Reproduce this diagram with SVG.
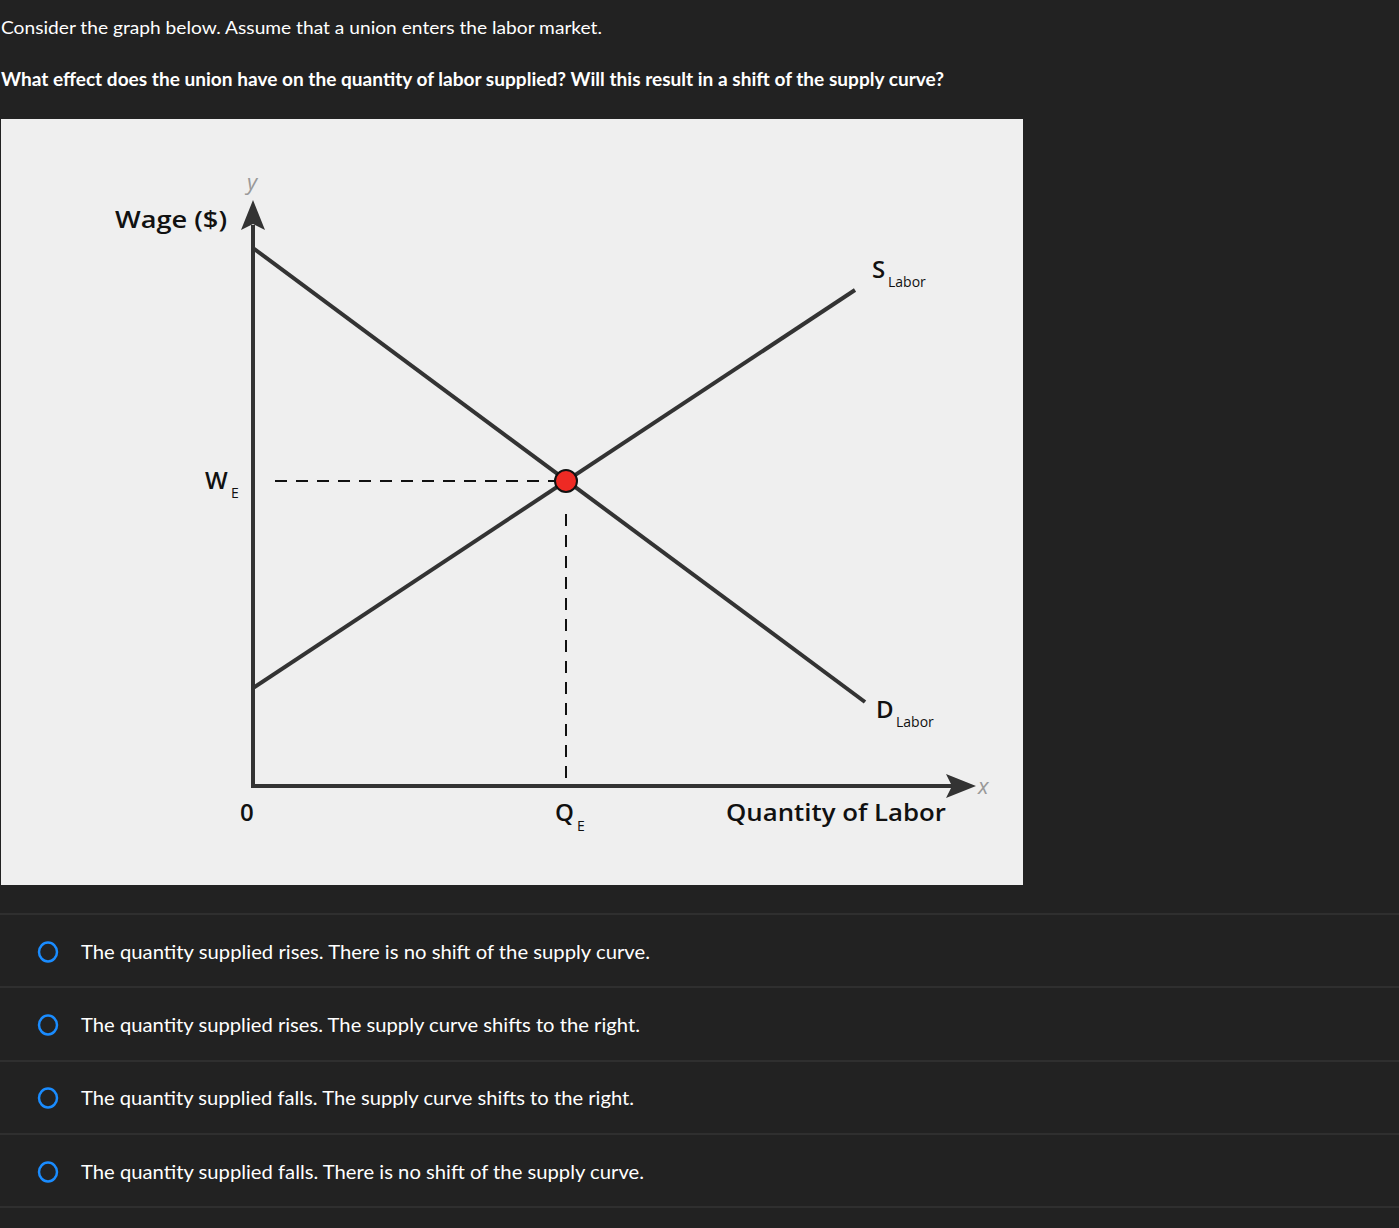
<svg xmlns="http://www.w3.org/2000/svg" width="1399" height="1228" viewBox="0 0 1399 1228">
<style>
.q{font-family:"Lato","Liberation Sans",sans-serif;fill:#fff;font-size:18px}
.opt{font-family:"Lato","Liberation Sans",sans-serif;fill:#fff;font-size:19px}
.lbl{font-family:"Open Sans","Liberation Sans",sans-serif;fill:#111;font-weight:600}
.sub{font-family:"Open Sans","Liberation Sans",sans-serif;fill:#111;font-size:14px}
.ax{font-family:"Open Sans","Liberation Sans",sans-serif;fill:#999;font-style:italic;font-size:22px}
.sep{stroke:#353535;stroke-width:1.5}
.radio{fill:none;stroke:#1a8cff;stroke-width:2.5}
.curve{stroke:#333;stroke-width:4;fill:none}
.dash{stroke:#111;stroke-width:2;stroke-dasharray:12,9;fill:none}
</style>
<rect width="1399" height="1228" fill="#222"/>
<text class="q" x="1" y="34" textLength="601" lengthAdjust="spacingAndGlyphs">Consider the graph below. Assume that a union enters the labor market.</text>
<text class="q" x="1" y="86" font-weight="bold" textLength="943" lengthAdjust="spacingAndGlyphs">What effect does the union have on the quantity of labor supplied? Will this result in a shift of the supply curve?</text>
<rect x="1" y="119" width="1022" height="766" fill="#efefef"/>
<g id="connectors">
<line class="dash" x1="275" y1="481" x2="556" y2="481"/>
<line class="dash" x1="566" y1="514" x2="566" y2="780" stroke-dasharray="10,14"/>
<line class="curve" x1="253" y1="786" x2="253" y2="225" stroke-width="5"/>
<polygon points="253,200 241,230 253,224 265,230" fill="#333"/>
<line class="curve" x1="251" y1="786" x2="955" y2="786" stroke-width="5"/>
<polygon points="976,786 946,774 952,786 946,798" fill="#333"/>
<line class="curve" x1="253" y1="248" x2="865" y2="702"/>
<line class="curve" x1="253" y1="688" x2="855" y2="290"/>
</g>
<g id="eq"><circle cx="566" cy="481" r="11" fill="#ee2a24" stroke="#111" stroke-width="2"/></g>
<g id="labels">
<text class="ax" x="247" y="190">y</text>
<text class="ax" x="978" y="794">x</text>
<text class="lbl" x="115" y="228" font-size="24" textLength="112" lengthAdjust="spacingAndGlyphs">Wage ($)</text>
<text class="lbl" x="205" y="489" font-size="24">W</text><text class="sub" x="231" y="498">E</text>
<text class="lbl" x="240" y="821" font-size="24">0</text>
<text class="lbl" x="555" y="821" font-size="24">Q</text><text class="sub" x="577" y="831">E</text>
<text class="lbl" x="726" y="821" font-size="24" textLength="220" lengthAdjust="spacingAndGlyphs">Quantity of Labor</text>
<text class="lbl" x="872" y="278" font-size="24">S</text><text class="sub" x="888" y="287">Labor</text>
<text class="lbl" x="876" y="718" font-size="24">D</text><text class="sub" x="896" y="727">Labor</text>
</g>
<line class="sep" x1="0" y1="914" x2="1399" y2="914"/>
<line class="sep" x1="0" y1="987" x2="1399" y2="987"/>
<line class="sep" x1="0" y1="1061" x2="1399" y2="1061"/>
<line class="sep" x1="0" y1="1134" x2="1399" y2="1134"/>
<line class="sep" x1="0" y1="1207" x2="1399" y2="1207"/>
<g id="opt1"><ellipse class="radio" cx="48" cy="952" rx="9" ry="9.5"/><text class="opt" x="81" y="959" textLength="569" lengthAdjust="spacingAndGlyphs">The quantity supplied rises. There is no shift of the supply curve.</text></g>
<g id="opt2"><ellipse class="radio" cx="48" cy="1025" rx="9" ry="9.5"/><text class="opt" x="81" y="1032" textLength="559" lengthAdjust="spacingAndGlyphs">The quantity supplied rises. The supply curve shifts to the right.</text></g>
<g id="opt3"><ellipse class="radio" cx="48" cy="1098" rx="9" ry="9.5"/><text class="opt" x="81" y="1105" textLength="553" lengthAdjust="spacingAndGlyphs">The quantity supplied falls. The supply curve shifts to the right.</text></g>
<g id="opt4"><ellipse class="radio" cx="48" cy="1172" rx="9" ry="9.5"/><text class="opt" x="81" y="1179" textLength="563" lengthAdjust="spacingAndGlyphs">The quantity supplied falls. There is no shift of the supply curve.</text></g>
</svg>
